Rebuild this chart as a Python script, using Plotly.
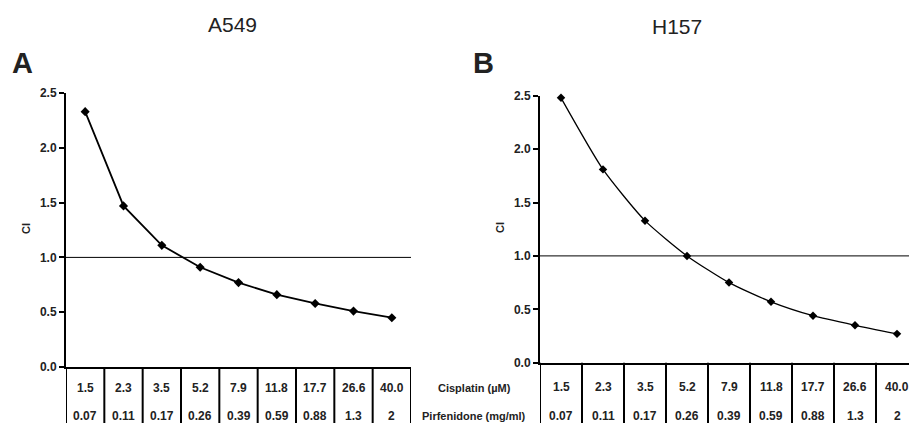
import plotly.graph_objects as go

W, H = 909, 423

cisplatin = ["1.5", "2.3", "3.5", "5.2", "7.9", "11.8", "17.7", "26.6", "40.0"]
pirfenidone = ["0.07", "0.11", "0.17", "0.26", "0.39", "0.59", "0.88", "1.3", "2"]
ci_a549 = [2.33, 1.47, 1.11, 0.91, 0.77, 0.66, 0.58, 0.51, 0.45]
ci_h157 = [2.48, 1.81, 1.33, 1.00, 0.75, 0.57, 0.44, 0.35, 0.27]
y_ticks = [0.0, 0.5, 1.0, 1.5, 2.0, 2.5]
row_labels = ["Cisplatin (\u00b5M)", "Pirfenidone (mg/ml)"]

FONT = "Liberation Sans, Arial, sans-serif"
pos = list(range(1, len(cisplatin) + 1))

fig = go.Figure()

# panel geometry in pixels
panels = [
    dict(x0=66, x1=411, yzero=367, ytop=93, xmax=9.5,
         data=ci_a549, lw=1.8, ms=7, shape="linear",
         row_y=[388, 416]),
    dict(x0=540, x1=909, yzero=362.7, ytop=95.7, xmax=0.5 + 369 / 42,
         data=ci_h157, lw=1.3, ms=6.5, shape="spline",
         row_y=[387, 416]),
]

def py(p):
    return 1 - p / H

for i, p in enumerate(panels):
    sfx = "" if i == 0 else "2"
    fig.add_trace(go.Scatter(
        x=pos, y=p["data"], mode="lines+markers",
        line=dict(color="black", width=p["lw"], shape=p["shape"], smoothing=0.6),
        marker=dict(symbol="diamond", size=p["ms"], color="black"),
        xaxis="x" + sfx, yaxis="y" + sfx, showlegend=False, cliponaxis=False,
    ))
    fig.update_layout(**{
        "xaxis" + sfx: dict(domain=[p["x0"] / W, p["x1"] / W], range=[0.5, p["xmax"]],
                            showline=True, linecolor="black", linewidth=2,
                            showticklabels=False, ticks="", showgrid=False, zeroline=False,
                            anchor="y" + sfx, automargin=False),
        "yaxis" + sfx: dict(domain=[py(p["yzero"]), py(p["ytop"])], range=[0, 2.5],
                            tickvals=y_ticks, tickformat=".1f",
                            showline=True, linecolor="black", linewidth=2,
                            ticks="outside", ticklen=5, tickwidth=2, tickcolor="black",
                            tickfont=dict(family=FONT, size=12, color="#222", weight="bold"),
                            showgrid=False, zeroline=False, anchor="x" + sfx,
                            automargin=False),
    })
    xr = "x" + sfx
    # reference line at CI = 1
    fig.add_shape(type="line", xref=xr + " domain", yref="y" + sfx,
                  x0=0, x1=1, y0=1, y1=1, line=dict(color="black", width=1))
    # table column borders
    for k in range(len(cisplatin) + 1):
        fig.add_shape(type="line", xref=xr, yref="paper",
                      x0=k + 0.5, x1=k + 0.5, y0=0, y1=py(p["yzero"]),
                      line=dict(color="black", width=2))
    # table values
    for row, vals in enumerate([cisplatin, pirfenidone]):
        for xv, t in zip(pos, vals):
            fig.add_annotation(x=xv, y=py(p["row_y"][row]), xref=xr, yref="paper",
                               text=t, showarrow=False, xanchor="center", yanchor="middle",
                               font=dict(family=FONT, size=12, color="#222", weight="bold"))

# row labels between panels
for txt, yy in zip(row_labels, [388, 416]):
    fig.add_annotation(x=474 / W, y=py(yy), xref="paper", yref="paper", text=txt,
                       showarrow=False, xanchor="center", yanchor="middle",
                       font=dict(family=FONT, size=11, color="#222", weight="bold"))

# titles, panel letters, axis titles
for txt, xx, yy, size, bold in [("A549", 232, 25, 21, False), ("H157", 677, 27, 21, False),
                                ("A", 22, 62.5, 29, True), ("B", 484, 62.5, 29, True)]:
    fig.add_annotation(x=xx / W, y=py(yy), xref="paper", yref="paper", text=txt,
                       showarrow=False, xanchor="center", yanchor="middle",
                       font=dict(family=FONT, size=size, color="#222",
                                 weight="bold" if bold else "normal"))
for xx, yy in [(26, 229), (500, 228)]:
    fig.add_annotation(x=xx / W, y=py(yy), xref="paper", yref="paper", text="CI",
                       showarrow=False, textangle=-90, xanchor="center", yanchor="middle",
                       font=dict(family=FONT, size=11, color="#222", weight="bold"))

fig.update_layout(width=W, height=H, margin=dict(l=0, r=0, t=0, b=0),
                  paper_bgcolor="white", plot_bgcolor="white")

fig.write_html("out.html", config={"displayModeBar": False},
               post_script="document.body.style.margin='0px';"
                           "document.body.style.overflow='hidden';")
